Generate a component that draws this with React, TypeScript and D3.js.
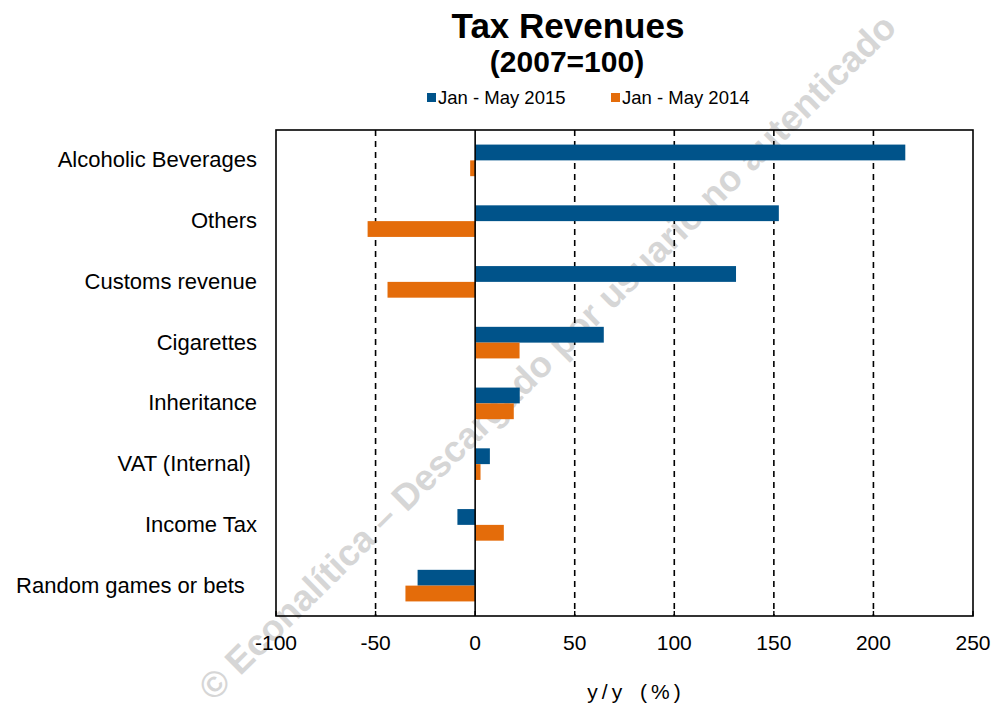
import React from "react";
import * as d3 from "d3";

const categories = [
  "Alcoholic Beverages",
  "Others",
  "Customs revenue",
  "Cigarettes",
  "Inheritance",
  "VAT (Internal) ",
  "Income Tax",
  "Random games or bets  ",
];
const series2015 = [216, 152.5, 131, 64.6, 22.4, 7.4, -8.9, -28.9];
const series2014 = [-2.5, -54, -44, 22.3, 19.4, 2.7, 14.4, -35];
const seriesNames = ["Jan - May 2015", "Jan - May 2014"];
const seriesColors = ["#00538A", "#E46C0A"];
const xTicks = [-100, -50, 0, 50, 100, 150, 200, 250];
const gridTicks = [-50, 50, 100, 150, 200];

const W = 993;
const H = 706;
const FONT = "'Liberation Sans', Arial, sans-serif";

export default function App() {
  const left = 276, right = 973, top = 130, bottom = 616;
  const x = d3.scaleLinear().domain([-100, 250]).range([left, right]);
  const y = d3.scaleBand<string>().domain(categories).range([top, bottom]).paddingInner(0.48).paddingOuter(0.24);
  const sub = d3.scaleBand<number>().domain([0, 1]).range([0, y.bandwidth()]);
  const data = [series2015, series2014];

  return (
    <svg width={W} height={H} style={{ position: "absolute", left: 0, top: 0 }}>
      <rect x={0} y={0} width={W} height={H} fill="#fff" />
      {/* watermark */}
      <text
        x={556}
        y={366}
        transform="rotate(-44.5 556 366)"
        textAnchor="middle"
        fontFamily={FONT}
        fontWeight="bold"
        fontSize={36.5}
        fill="#d6d6d6"
      >
        © Econalítica – Descargado por usuario no autenticado
      </text>

      {/* title */}
      <text x={568} y={38} textAnchor="middle" fontFamily={FONT} fontWeight="bold" fontSize={35} fill="#000">
        Tax Revenues
      </text>
      <text x={567} y={72} textAnchor="middle" fontFamily={FONT} fontWeight="bold" fontSize={30} fill="#000">
        (2007=100)
      </text>

      {/* legend */}
      {seriesNames.map((n, i) => {
        const lx = i === 0 ? 427 : 611;
        return (
          <g key={n}>
            <rect x={lx} y={93} width={9} height={9} fill={seriesColors[i]} />
            <text x={lx + 11} y={104} fontFamily={FONT} fontSize={18.5} fill="#000">
              {n}
            </text>
          </g>
        );
      })}

      {/* gridlines */}
      {gridTicks.map((t) => (
        <line key={t} x1={x(t)} x2={x(t)} y1={top} y2={bottom} stroke="#000" strokeWidth={1.6} strokeDasharray="6,5" />
      ))}

      {/* bars */}
      {data.map((vals, si) =>
        vals.map((v, ci) => (
          <rect
            key={`${si}-${ci}`}
            x={Math.min(x(0), x(v))}
            y={(y(categories[ci]) as number) + (sub(si) as number)}
            width={Math.abs(x(v) - x(0))}
            height={sub.bandwidth()}
            fill={seriesColors[si]}
          />
        ))
      )}

      {/* zero line */}
      <line x1={x(0)} x2={x(0)} y1={top} y2={bottom} stroke="#000" strokeWidth={1.6} />

      {/* frame */}
      <rect x={left} y={top} width={right - left} height={bottom - top} fill="none" stroke="#000" strokeWidth={1.6} />

      {/* x ticks */}
      {xTicks.map((t) => (
        <g key={t}>
          <line x1={x(t)} x2={x(t)} y1={bottom} y2={bottom - 5} stroke="#000" strokeWidth={1.4} />
          <text x={x(t)} y={650} textAnchor="middle" fontFamily={FONT} fontSize={21} fill="#000">
            {t}
          </text>
        </g>
      ))}
      <text x={636} y={699} textAnchor="middle" fontFamily={FONT} fontSize={21} fill="#000" letterSpacing={4} wordSpacing={4}>
        y/y (%)
      </text>

      {/* y labels */}
      {categories.map((c) => (
        <text
          key={c}
          x={257}
          y={(y(c) as number) + y.bandwidth() / 2 + 7}
          textAnchor="end"
          fontFamily={FONT}
          fontSize={22}
          fill="#000"
          style={{ whiteSpace: "pre" }}
          xmlSpace="preserve"
        >
          {c}
        </text>
      ))}
    </svg>
  );
}
